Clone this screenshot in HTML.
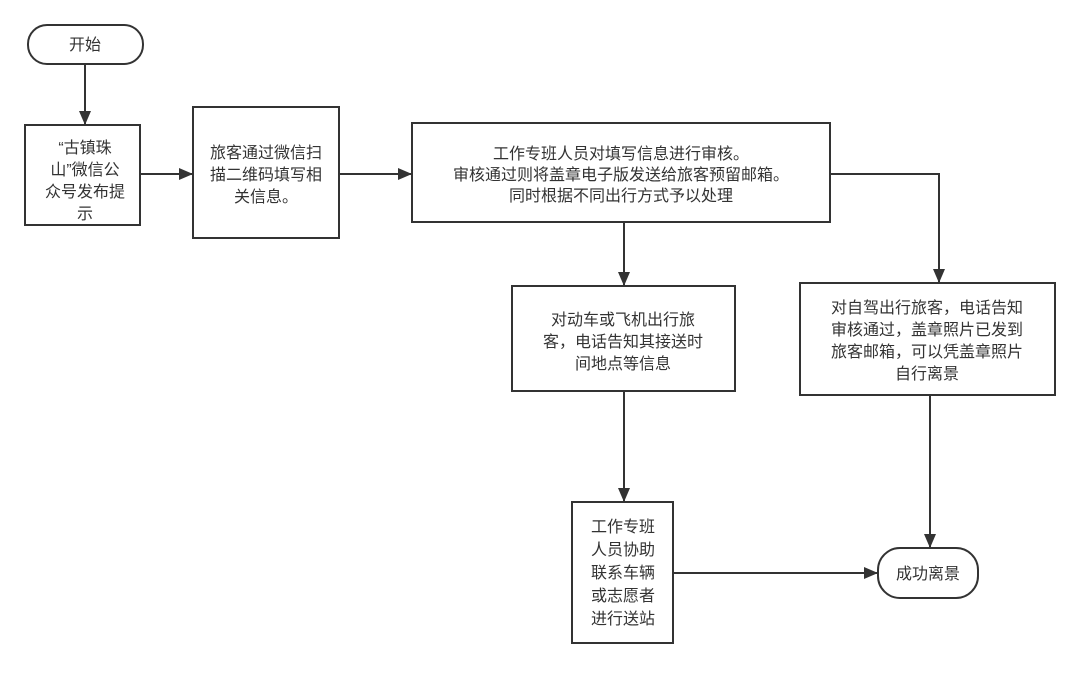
<!DOCTYPE html>
<html><head><meta charset="utf-8"><style>
body{margin:0;background:#fff;width:1080px;height:669px;overflow:hidden}
svg text{font-family:"Liberation Sans","Noto Sans CJK SC",sans-serif;font-size:16px;fill:#333;text-anchor:middle}
</style></head><body>
<svg width="1080" height="669" xmlns="http://www.w3.org/2000/svg">
<defs><marker id="a" markerWidth="14" markerHeight="12" refX="13" refY="6" orient="auto" markerUnits="userSpaceOnUse"><path d="M0,0 L14,6 L0,12 z" fill="#333"/></marker></defs>
<g fill="none" stroke="#333" stroke-width="2">
<rect x="28" y="25" width="115" height="39" rx="19"/>
<rect x="25" y="125" width="115" height="100"/>
<rect x="193" y="107" width="146" height="131"/>
<rect x="412" y="123" width="418" height="99"/>
<rect x="512" y="286" width="223" height="105"/>
<rect x="800" y="283" width="255" height="112"/>
<rect x="572" y="502" width="101" height="141"/>
<rect x="878" y="548" width="100" height="50" rx="22"/>
<path d="M85 64 V124" marker-end="url(#a)"/>
<path d="M140 174 H192" marker-end="url(#a)"/>
<path d="M339 174 H411" marker-end="url(#a)"/>
<path d="M624 222 V285" marker-end="url(#a)"/>
<path d="M830 174 H939 V282" marker-end="url(#a)"/>
<path d="M624 391 V501" marker-end="url(#a)"/>
<path d="M930 395 V547" marker-end="url(#a)"/>
<path d="M673 573 H877" marker-end="url(#a)"/>
</g>
<text x="85" y="50">开始</text>
<text x="85" y="153">“古镇珠</text>
<text x="85" y="175">山”微信公</text>
<text x="85" y="197">众号发布提</text>
<text x="85" y="219">示</text>
<text x="266" y="158">旅客通过微信扫</text>
<text x="266" y="180">描二维码填写相</text>
<text x="266" y="202">关信息。</text>
<text x="621" y="159">工作专班人员对填写信息进行审核。</text>
<text x="621" y="180">审核通过则将盖章电子版发送给旅客预留邮箱。</text>
<text x="621" y="201">同时根据不同出行方式予以处理</text>
<text x="623" y="325">对动车或飞机出行旅</text>
<text x="623" y="347">客，电话告知其接送时</text>
<text x="623" y="369">间地点等信息</text>
<text x="927" y="313">对自驾出行旅客，电话告知</text>
<text x="927" y="335">审核通过，盖章照片已发到</text>
<text x="927" y="357">旅客邮箱，可以凭盖章照片</text>
<text x="927" y="379">自行离景</text>
<text x="623" y="532">工作专班</text>
<text x="623" y="555">人员协助</text>
<text x="623" y="578">联系车辆</text>
<text x="623" y="601">或志愿者</text>
<text x="623" y="624">进行送站</text>
<text x="928" y="579">成功离景</text>
</svg>
</body></html>
